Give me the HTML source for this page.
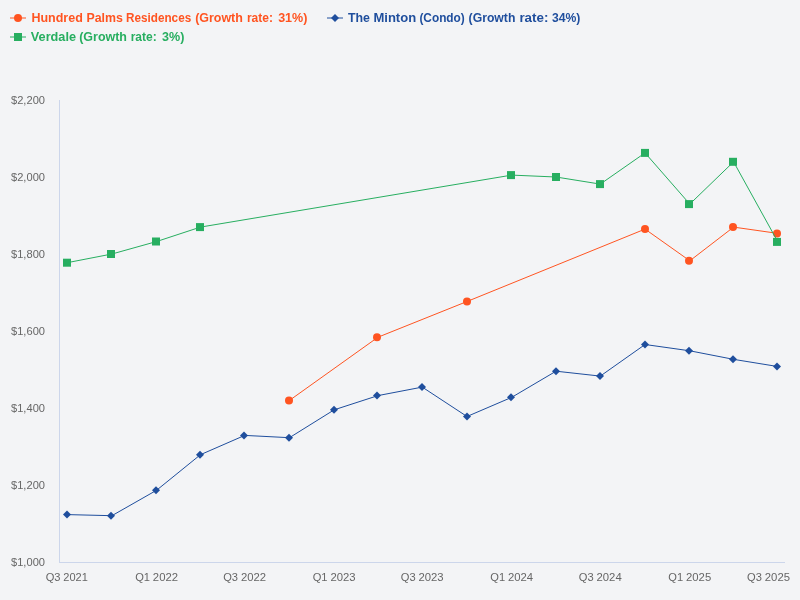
<!DOCTYPE html>
<html lang="en">
<head>
<meta charset="utf-8">
<title>Price trend chart</title>
<style>
html,body{margin:0;padding:0;background:#f3f4f6;}
body{width:800px;height:600px;overflow:hidden;font-family:"Liberation Sans",sans-serif;}
svg{display:block;}
svg text{font-family:"Liberation Sans",sans-serif;}
svg{will-change:transform;}
.leg{font-size:12px;font-weight:bold;}
.ax{font-size:11px;fill:#666666;}
</style>
</head>
<body>
<svg width="800" height="600" viewBox="0 0 800 600">
<rect x="0" y="0" width="800" height="600" fill="#f3f4f6"/>

<path d="M 59.5 100 L 59.5 562" stroke="#ccd6eb" stroke-width="1" fill="none"/>
<path d="M 59 562.5 L 785 562.5" stroke="#ccd6eb" stroke-width="1" fill="none"/>
<text class="ax" x="45" y="104" text-anchor="end" textLength="34" lengthAdjust="spacingAndGlyphs">$2,200</text>
<text class="ax" x="45" y="181" text-anchor="end" textLength="34" lengthAdjust="spacingAndGlyphs">$2,000</text>
<text class="ax" x="45" y="258" text-anchor="end" textLength="34" lengthAdjust="spacingAndGlyphs">$1,800</text>
<text class="ax" x="45" y="335" text-anchor="end" textLength="34" lengthAdjust="spacingAndGlyphs">$1,600</text>
<text class="ax" x="45" y="412" text-anchor="end" textLength="34" lengthAdjust="spacingAndGlyphs">$1,400</text>
<text class="ax" x="45" y="489" text-anchor="end" textLength="34" lengthAdjust="spacingAndGlyphs">$1,200</text>
<text class="ax" x="45" y="566" text-anchor="end" textLength="34" lengthAdjust="spacingAndGlyphs">$1,000</text>
<text class="ax" x="45.65" y="581" textLength="14.86" lengthAdjust="spacingAndGlyphs">Q3</text><text class="ax" x="63.37" y="581" textLength="24.5" lengthAdjust="spacingAndGlyphs">2021</text>
<text class="ax" x="135.16" y="581" textLength="14.86" lengthAdjust="spacingAndGlyphs">Q1</text><text class="ax" x="152.88" y="581" textLength="25.17" lengthAdjust="spacingAndGlyphs">2022</text>
<text class="ax" x="223.20" y="581" textLength="14.86" lengthAdjust="spacingAndGlyphs">Q3</text><text class="ax" x="240.92" y="581" textLength="25.17" lengthAdjust="spacingAndGlyphs">2022</text>
<text class="ax" x="312.71" y="581" textLength="14.86" lengthAdjust="spacingAndGlyphs">Q1</text><text class="ax" x="330.43" y="581" textLength="25.17" lengthAdjust="spacingAndGlyphs">2023</text>
<text class="ax" x="400.76" y="581" textLength="14.86" lengthAdjust="spacingAndGlyphs">Q3</text><text class="ax" x="418.48" y="581" textLength="25.17" lengthAdjust="spacingAndGlyphs">2023</text>
<text class="ax" x="490.27" y="581" textLength="14.86" lengthAdjust="spacingAndGlyphs">Q1</text><text class="ax" x="507.99" y="581" textLength="25.17" lengthAdjust="spacingAndGlyphs">2024</text>
<text class="ax" x="578.80" y="581" textLength="14.86" lengthAdjust="spacingAndGlyphs">Q3</text><text class="ax" x="596.52" y="581" textLength="25.17" lengthAdjust="spacingAndGlyphs">2024</text>
<text class="ax" x="668.31" y="581" textLength="14.86" lengthAdjust="spacingAndGlyphs">Q1</text><text class="ax" x="686.03" y="581" textLength="25.17" lengthAdjust="spacingAndGlyphs">2025</text>
<text class="ax" x="747.10" y="581" textLength="14.86" lengthAdjust="spacingAndGlyphs">Q3</text><text class="ax" x="764.82" y="581" textLength="25.17" lengthAdjust="spacingAndGlyphs">2025</text>
<path d="M 289.46 400.4 L 377.99 337.2 L 467.01 301.5 L 645.05 229.1 L 689.81 260.8 L 733.59 227.1 L 777.85 233.4" stroke="#ff5421" stroke-width="1" fill="none" stroke-linejoin="round" stroke-linecap="round"/>
<circle cx="289" cy="400.4" r="4" fill="#ff5421"/>
<circle cx="377" cy="337.2" r="4" fill="#ff5421"/>
<circle cx="467" cy="301.5" r="4" fill="#ff5421"/>
<circle cx="645" cy="229.1" r="4" fill="#ff5421"/>
<circle cx="689" cy="260.8" r="4" fill="#ff5421"/>
<circle cx="733" cy="227.1" r="4" fill="#ff5421"/>
<circle cx="777" cy="233.4" r="4" fill="#ff5421"/>
<path d="M 67.15 514.6 L 111.9 515.7 L 156.66 490.2 L 200.44 454.7 L 244.7 435.4 L 289.46 437.7 L 334.21 409.8 L 377.99 395.6 L 422.26 387.1 L 467.01 416.5 L 511.77 397.3 L 556.03 371.2 L 600.3 376.1 L 645.05 344.5 L 689.81 350.8 L 733.59 359.35 L 777.85 366.55" stroke="#1f4e9d" stroke-width="1" fill="none" stroke-linejoin="round" stroke-linecap="round"/>
<path d="M 67 510.6 L 71 514.6 L 67 518.6 L 63 514.6 Z" fill="#1f4e9d"/>
<path d="M 111 511.70000000000005 L 115 515.7 L 111 519.7 L 107 515.7 Z" fill="#1f4e9d"/>
<path d="M 156 486.2 L 160 490.2 L 156 494.2 L 152 490.2 Z" fill="#1f4e9d"/>
<path d="M 200 450.7 L 204 454.7 L 200 458.7 L 196 454.7 Z" fill="#1f4e9d"/>
<path d="M 244 431.4 L 248 435.4 L 244 439.4 L 240 435.4 Z" fill="#1f4e9d"/>
<path d="M 289 433.7 L 293 437.7 L 289 441.7 L 285 437.7 Z" fill="#1f4e9d"/>
<path d="M 334 405.8 L 338 409.8 L 334 413.8 L 330 409.8 Z" fill="#1f4e9d"/>
<path d="M 377 391.6 L 381 395.6 L 377 399.6 L 373 395.6 Z" fill="#1f4e9d"/>
<path d="M 422 383.1 L 426 387.1 L 422 391.1 L 418 387.1 Z" fill="#1f4e9d"/>
<path d="M 467 412.5 L 471 416.5 L 467 420.5 L 463 416.5 Z" fill="#1f4e9d"/>
<path d="M 511 393.3 L 515 397.3 L 511 401.3 L 507 397.3 Z" fill="#1f4e9d"/>
<path d="M 556 367.2 L 560 371.2 L 556 375.2 L 552 371.2 Z" fill="#1f4e9d"/>
<path d="M 600 372.1 L 604 376.1 L 600 380.1 L 596 376.1 Z" fill="#1f4e9d"/>
<path d="M 645 340.5 L 649 344.5 L 645 348.5 L 641 344.5 Z" fill="#1f4e9d"/>
<path d="M 689 346.8 L 693 350.8 L 689 354.8 L 685 350.8 Z" fill="#1f4e9d"/>
<path d="M 733 355.35 L 737 359.35 L 733 363.35 L 729 359.35 Z" fill="#1f4e9d"/>
<path d="M 777 362.55 L 781 366.55 L 777 370.55 L 773 366.55 Z" fill="#1f4e9d"/>
<path d="M 67.15 262.7 L 111.9 254 L 156.66 241.5 L 200.44 227.1 L 511.77 175.1 L 556.03 177 L 600.3 184.1 L 645.05 152.9 L 689.81 204.1 L 733.59 161.8 L 777.85 241.9" stroke="#27ae60" stroke-width="1" fill="none" stroke-linejoin="round" stroke-linecap="round"/>
<rect x="63" y="258.7" width="8" height="8" fill="#27ae60"/>
<rect x="107" y="250" width="8" height="8" fill="#27ae60"/>
<rect x="152" y="237.5" width="8" height="8" fill="#27ae60"/>
<rect x="196" y="223.1" width="8" height="8" fill="#27ae60"/>
<rect x="507" y="171.1" width="8" height="8" fill="#27ae60"/>
<rect x="552" y="173" width="8" height="8" fill="#27ae60"/>
<rect x="596" y="180.1" width="8" height="8" fill="#27ae60"/>
<rect x="641" y="148.9" width="8" height="8" fill="#27ae60"/>
<rect x="685" y="200.1" width="8" height="8" fill="#27ae60"/>
<rect x="729" y="157.8" width="8" height="8" fill="#27ae60"/>
<rect x="773" y="237.9" width="8" height="8" fill="#27ae60"/>
<path d="M 10 18 L 26 18" stroke="#ff5421" stroke-width="1"/>
<circle cx="18" cy="18" r="4" fill="#ff5421"/>
<text class="leg" x="31.40" y="22" fill="#ff5421" textLength="51.40" lengthAdjust="spacingAndGlyphs">Hundred</text>
<text class="leg" x="86.40" y="22" fill="#ff5421" textLength="36.40" lengthAdjust="spacingAndGlyphs">Palms</text>
<text class="leg" x="126.10" y="22" fill="#ff5421" textLength="65.05" lengthAdjust="spacingAndGlyphs">Residences</text>
<text class="leg" x="195.15" y="22" fill="#ff5421" textLength="47.75" lengthAdjust="spacingAndGlyphs">(Growth</text>
<text class="leg" x="246.90" y="22" fill="#ff5421" textLength="26.00" lengthAdjust="spacingAndGlyphs">rate:</text>
<text class="leg" x="278.15" y="22" fill="#ff5421" textLength="29.25" lengthAdjust="spacingAndGlyphs">31%)</text>
<path d="M 327 18 L 343 18" stroke="#1f4e9d" stroke-width="1"/>
<path d="M 335 14 L 339 18 L 335 22 L 331 18 Z" fill="#1f4e9d"/>
<text class="leg" x="348.00" y="22" fill="#1f4e9d" textLength="22.00" lengthAdjust="spacingAndGlyphs">The</text>
<text class="leg" x="373.40" y="22" fill="#1f4e9d" textLength="42.80" lengthAdjust="spacingAndGlyphs">Minton</text>
<text class="leg" x="419.40" y="22" fill="#1f4e9d" textLength="45.40" lengthAdjust="spacingAndGlyphs">(Condo)</text>
<text class="leg" x="468.60" y="22" fill="#1f4e9d" textLength="46.80" lengthAdjust="spacingAndGlyphs">(Growth</text>
<text class="leg" x="519.40" y="22" fill="#1f4e9d" textLength="29.00" lengthAdjust="spacingAndGlyphs">rate:</text>
<text class="leg" x="552.00" y="22" fill="#1f4e9d" textLength="28.40" lengthAdjust="spacingAndGlyphs">34%)</text>
<path d="M 10 37 L 26 37" stroke="#27ae60" stroke-width="1"/>
<rect x="14" y="33" width="8" height="8" fill="#27ae60"/>
<text class="leg" x="30.80" y="41" fill="#27ae60" textLength="45.20" lengthAdjust="spacingAndGlyphs">Verdale</text>
<text class="leg" x="79.20" y="41" fill="#27ae60" textLength="47.80" lengthAdjust="spacingAndGlyphs">(Growth</text>
<text class="leg" x="130.65" y="41" fill="#27ae60" textLength="26.05" lengthAdjust="spacingAndGlyphs">rate:</text>
<text class="leg" x="162.10" y="41" fill="#27ae60" textLength="22.30" lengthAdjust="spacingAndGlyphs">3%)</text>
</svg>
</body>
</html>
